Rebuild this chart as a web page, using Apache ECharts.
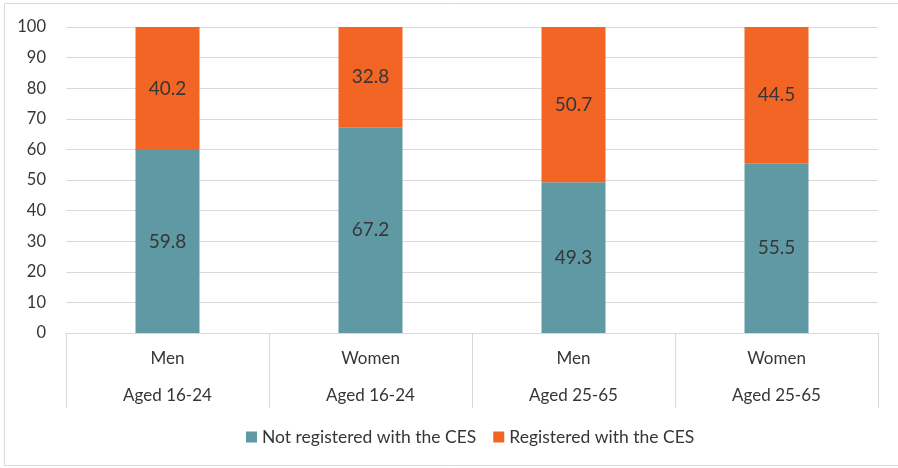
<!DOCTYPE html>
<html><head><meta charset="utf-8">
<script src="https://cdn.jsdelivr.net/npm/echarts@6/dist/echarts.min.js"></script>
<style>html,body{margin:0;padding:0;background:#fff}#c{width:898px;height:468px}</style>
</head><body><div id="c"></div>
<script>
const sexes = ["Men", "Women", "Men", "Women"];
const ageGroups = ["Aged 16-24", "Aged 16-24", "Aged 25-65", "Aged 25-65"];
const notRegistered = [59.8, 67.2, 49.3, 55.5];
const registered = [40.2, 32.8, 50.7, 44.5];
const yTicks = { min: 0, max: 100, interval: 10 };

const FONT = "Lato";
const TXT = "#363636";
const chart = echarts.init(document.getElementById('c'), null, { renderer: 'canvas' });
const barLabel = { show: true, position: 'inside', color: TXT, fontFamily: FONT, fontSize: 19,
  formatter: p => p.value.toFixed(1) };
chart.setOption({
  animation: false,
  backgroundColor: '#fff',
  graphic: [{ type: 'rect', shape: { x: 4.5, y: 3.5, width: 900, height: 462 },
    style: { fill: 'none', stroke: '#d9d9d9', lineWidth: 1 }, silent: true, z: -1 }],
  grid: { left: 66, right: 20, top: 27, bottom: 135 },
  legend: {
    bottom: 17, left: 241, itemWidth: 11, itemHeight: 11, itemGap: 17,
    icon: 'rect',
    textStyle: { color: TXT, fontFamily: FONT, fontSize: 17.5 },
    data: ['Not registered with the CES', 'Registered with the CES']
  },
  xAxis: [{
    type: 'category', data: sexes,
    axisLine: { lineStyle: { color: '#d9d9d9' } },
    axisTick: { show: true, length: 75, interval: 0, lineStyle: { color: '#d9d9d9' } },
    axisLabel: { color: TXT, fontFamily: FONT, fontSize: 17, margin: 17, interval: 0 }
  }, {
    type: 'category', data: ageGroups, position: 'bottom',
    axisLine: { show: false }, axisTick: { show: false },
    axisLabel: { color: TXT, fontFamily: FONT, fontSize: 17, margin: 54, interval: 0 }
  }],
  yAxis: {
    type: 'value', min: yTicks.min, max: yTicks.max, interval: yTicks.interval,
    axisLine: { show: false }, axisTick: { show: false },
    splitLine: { lineStyle: { color: '#d9d9d9' } },
    axisLabel: { color: TXT, fontFamily: FONT, fontSize: 16.5, margin: 20 }
  },
  series: [{
    name: 'Not registered with the CES', type: 'bar', stack: 'a', data: notRegistered,
    barWidth: 64, itemStyle: { color: '#5F99A4' }, label: barLabel
  }, {
    name: 'Registered with the CES', type: 'bar', stack: 'a', data: registered,
    barWidth: 64, itemStyle: { color: '#F26524' }, label: barLabel
  }]
});
</script></body></html>
